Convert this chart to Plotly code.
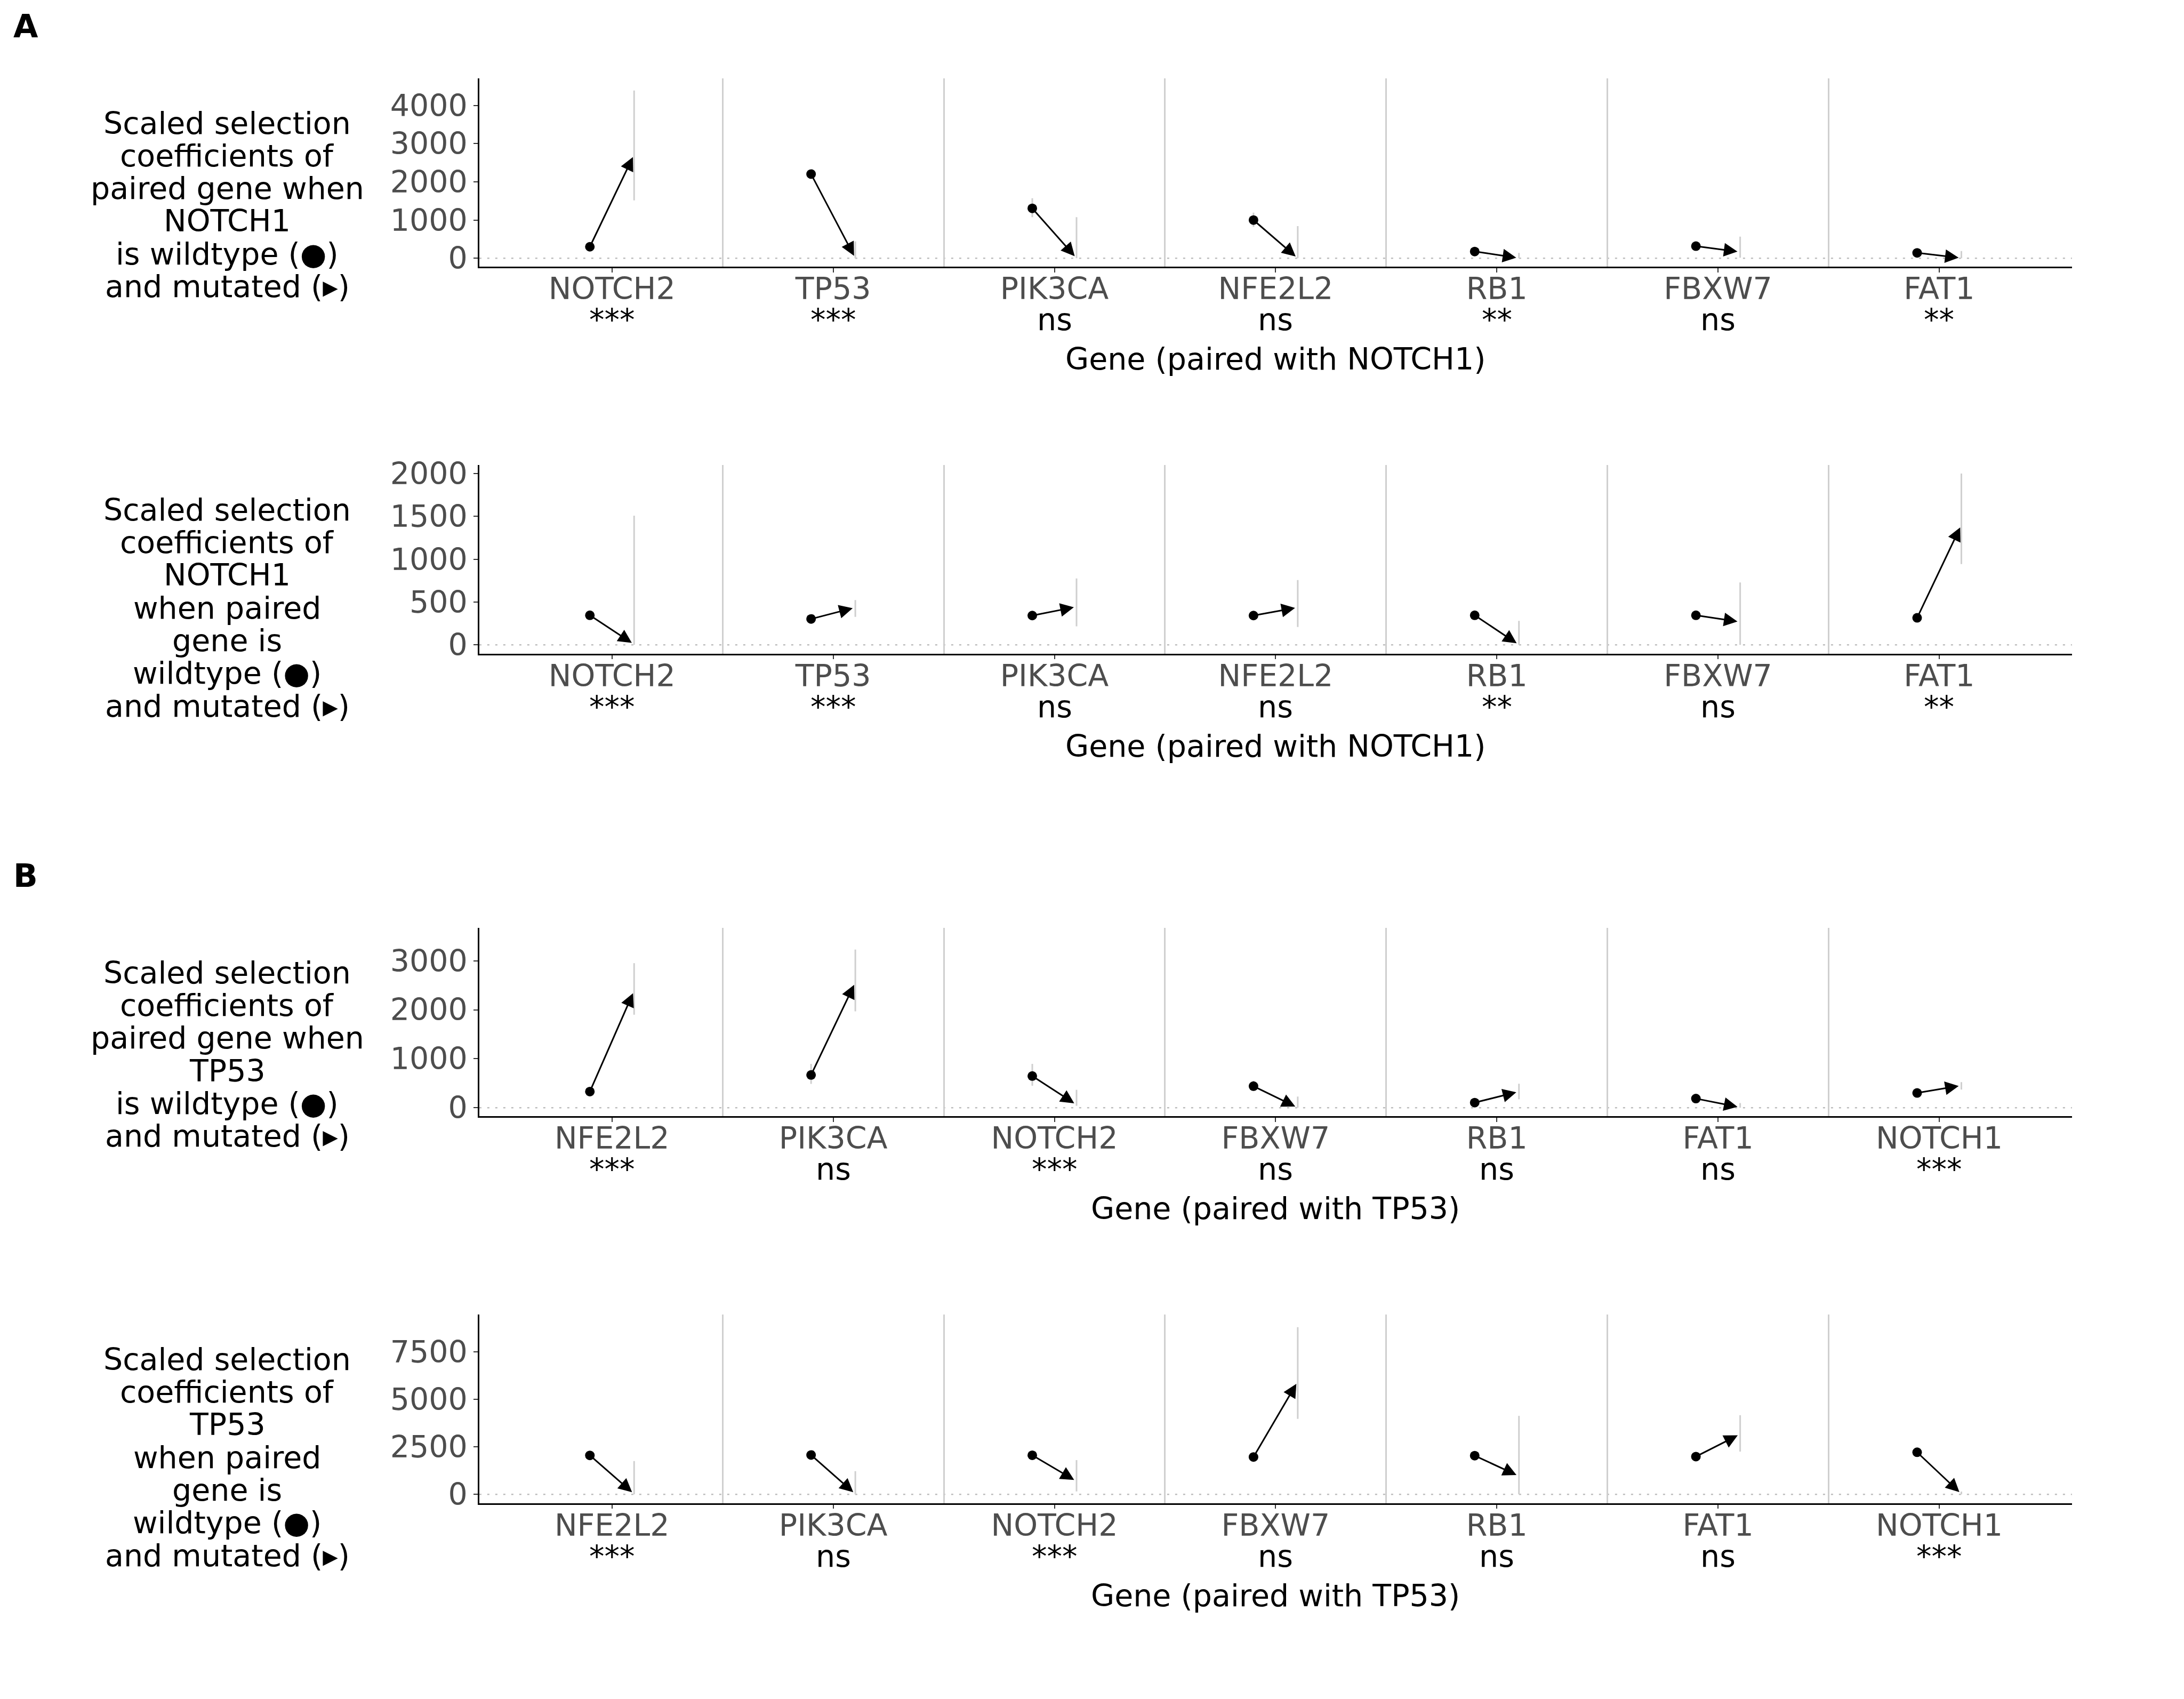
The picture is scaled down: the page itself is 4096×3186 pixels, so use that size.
import plotly.graph_objects as go

# ---------------- data ----------------
genes_A = ["NOTCH2", "TP53", "PIK3CA", "NFE2L2", "RB1", "FBXW7", "FAT1"]
sig_A = ["***", "***", "ns", "ns", "**", "ns", "**"]
genes_B = ["NFE2L2", "PIK3CA", "NOTCH2", "FBXW7", "RB1", "FAT1", "NOTCH1"]
sig_B = ["***", "ns", "***", "ns", "ns", "ns", "***"]

# A, top: selection of paired gene, NOTCH1 wildtype (wt) vs mutated (mut)
a1_wt = [300, 2203, 1306, 999, 176, 317, 141]
a1_wt_lo = [240, 2140, 1076, 822, 136, 277, 101]
a1_wt_hi = [360, 2266, 1571, 1193, 216, 357, 181]
a1_mut = [2714, 0, 0, 0, 5, 165, 5]
a1_mut_lo = [1515, 0, 0, 0, 0, 15, 0]
a1_mut_hi = [4390, 440, 1076, 840, 141, 565, 187]

# A, bottom: selection of NOTCH1 when paired gene wt vs mut
a2_wt = [345, 302, 342, 342, 345, 345, 315]
a2_wt_lo = [315, 272, 312, 312, 315, 315, 285]
a2_wt_hi = [375, 332, 372, 372, 375, 375, 345]
a2_mut = [5, 436, 444, 436, 0, 268, 1400]
a2_mut_lo = [0, 326, 216, 208, 0, 0, 943]
a2_mut_hi = [1507, 523, 775, 756, 279, 728, 2000]

# B, top: selection of paired gene, TP53 wt vs mut
b1_wt = [330, 669, 647, 440, 104, 187, 302]
b1_wt_lo = [290, 487, 449, 344, 70, 150, 265]
b1_wt_hi = [370, 895, 895, 550, 140, 225, 340]
b1_mut = [2390, 2560, 60, 0, 330, 8, 454]
b1_mut_lo = [1899, 1968, 40, 0, 173, 0, 371]
b1_mut_hi = [2951, 3229, 366, 228, 490, 95, 523]

# B, bottom: selection of TP53 when paired gene wt vs mut
b2_wt = [2051, 2072, 2058, 1966, 2037, 1987, 2214]
b2_wt_lo = [1900, 1920, 1910, 1820, 1890, 1840, 2060]
b2_wt_hi = [2200, 2220, 2210, 2110, 2180, 2130, 2360]
b2_mut = [20, 20, 688, 5940, 960, 3172, 20]
b2_mut_lo = [0, 0, 156, 3974, 0, 2250, 0]
b2_mut_hi = [1753, 1220, 1802, 8799, 4130, 4166, 150]

ticks_a1 = [0, 1000, 2000, 3000, 4000]
ticks_a2 = [0, 500, 1000, 1500, 2000]
ticks_b1 = [0, 1000, 2000, 3000]
ticks_b2 = [0, 2500, 5000, 7500]

title_a1 = ["Scaled selection", "coefficients of", "paired gene when", "NOTCH1",
            "is wildtype (\u25CF)", "and mutated (\u25B8)"]
title_a2 = ["Scaled selection", "coefficients of", "NOTCH1", "when paired",
            "gene is", "wildtype (\u25CF)", "and mutated (\u25B8)"]
title_b1 = ["Scaled selection", "coefficients of", "paired gene when", "TP53",
            "is wildtype (\u25CF)", "and mutated (\u25B8)"]
title_b2 = ["Scaled selection", "coefficients of", "TP53", "when paired",
            "gene is", "wildtype (\u25CF)", "and mutated (\u25B8)"]

# ---------------- layout constants (reference pixel frame) ----------------
W, H = 4096, 3186
RW, RH = 5400.0, 4200.0
S = W / RW
SY = H / RH
FONT = "DejaVu Sans"
FS = 57                 # output font size
FS_FULL = FS / S
GREY_TXT = "#4D4D4D"
LIGHT = "#CFCFCF"

# vertical compensation observed in the rendered page
V_OFF, V_K = 17.0, 0.9893


def px(xf):
    return xf / RW


def py(yf):
    out = yf * SY
    p = (out - V_OFF) / V_K
    return 1 - p / H


X_LEFT, X_RIGHT = 1185.0, 5123.0
panels = [
    dict(genes=genes_A, sig=sig_A, wt=a1_wt, wlo=a1_wt_lo, whi=a1_wt_hi,
         mut=a1_mut, mlo=a1_mut_lo, mhi=a1_mut_hi, yr=[-222, 4714], ticks=ticks_a1,
         top=193.3, bot=659.3, ytitle=title_a1, xtitle="Gene (paired with NOTCH1)"),
    dict(genes=genes_A, sig=sig_A, wt=a2_wt, wlo=a2_wt_lo, whi=a2_wt_hi,
         mut=a2_mut, mlo=a2_mut_lo, mhi=a2_mut_hi, yr=[-102.5, 2100], ticks=ticks_a2,
         top=1149.3, bot=1615.7, ytitle=title_a2, xtitle="Gene (paired with NOTCH1)"),
    dict(genes=genes_B, sig=sig_B, wt=b1_wt, wlo=b1_wt_lo, whi=b1_wt_hi,
         mut=b1_mut, mlo=b1_mut_lo, mhi=b1_mut_hi, yr=[-171, 3675], ticks=ticks_b1,
         top=2293.3, bot=2759.0, ytitle=title_b1, xtitle="Gene (paired with TP53)"),
    dict(genes=genes_B, sig=sig_B, wt=b2_wt, wlo=b2_wt_lo, whi=b2_wt_hi,
         mut=b2_mut, mlo=b2_mut_lo, mhi=b2_mut_hi, yr=[-462, 9468], ticks=ticks_b2,
         top=3249.3, bot=3715.7, ytitle=title_b2, xtitle="Gene (paired with TP53)"),
]

OFF = 0.1          # dodge of wildtype / mutated within a category
ASC_MID = 0.346    # (ascent - descent)/2 in em for DejaVu Sans
ARW, ARS = 3, 1.7  # arrow line width and head scale

fig = go.Figure()
annotations = []
shapes = []
layout = dict(width=W, height=H, margin=dict(l=0, r=0, t=0, b=0),
              paper_bgcolor="white", plot_bgcolor="white", showlegend=False,
              font=dict(family=FONT, size=FS, color="black"))

for k, p in enumerate(panels):
    n = k + 1
    xa = "xaxis" if n == 1 else f"xaxis{n}"
    ya = "yaxis" if n == 1 else f"yaxis{n}"
    xr = "x" if n == 1 else f"x{n}"
    yr = "y" if n == 1 else f"y{n}"
    cats = list(range(len(p["genes"])))

    layout[xa] = dict(
        domain=[px(X_LEFT), px(X_RIGHT)], anchor=yr, range=[-0.6, len(cats) - 0.4],
        tickmode="array", tickvals=cats, ticktext=p["genes"],
        ticks="outside", ticklen=7.6, tickwidth=2.3, tickcolor="#333333",
        ticklabelstandoff=-18,
        showline=True, linecolor="black", linewidth=3,
        tickfont=dict(family=FONT, size=FS, color=GREY_TXT),
        showgrid=False, zeroline=False, fixedrange=True,
        minor=dict(tickmode="array", tickvals=[c + 0.5 for c in cats[:-1]],
                   showgrid=True, gridcolor=LIGHT, gridwidth=2.6, ticks=""),
    )
    layout[ya] = dict(
        domain=[py(p["bot"]), py(p["top"])], anchor=xr, range=p["yr"],
        tickmode="array", tickvals=p["ticks"], ticktext=[str(t) for t in p["ticks"]],
        ticks="outside", ticklen=7.6, tickwidth=2.3, tickcolor="#333333",
        showline=True, linecolor="black", linewidth=3,
        tickfont=dict(family=FONT, size=FS, color=GREY_TXT),
        showgrid=False, zeroline=False, fixedrange=True,
    )

    # dotted zero reference line
    shapes.append(dict(type="line", xref=f"{xr} domain", x0=0, x1=1, yref=yr, y0=0, y1=0,
                       line=dict(color="#BDBDBD", width=2.5, dash="4px,11px"), layer="below"))

    # confidence ranges (grey vertical lines)
    cx, cy = [], []
    for c in cats:
        cx += [c - OFF, c - OFF, None, c + OFF, c + OFF, None]
        cy += [p["wlo"][c], p["whi"][c], None, p["mlo"][c], p["mhi"][c], None]
    fig.add_trace(go.Scatter(x=cx, y=cy, mode="lines", xaxis=xr, yaxis=yr,
                             line=dict(color=LIGHT, width=3), hoverinfo="skip"))

    # wildtype points
    fig.add_trace(go.Scatter(x=[c - OFF for c in cats], y=p["wt"], mode="markers",
                             xaxis=xr, yaxis=yr, cliponaxis=False,
                             marker=dict(symbol="circle", size=18, color="black")))

    # arrows wildtype -> mutated
    for c in cats:
        annotations.append(dict(
            x=c + OFF, y=p["mut"][c], ax=c - OFF, ay=p["wt"][c],
            xref=xr, yref=yr, axref=xr, ayref=yr, text="", showarrow=True,
            arrowhead=2, arrowsize=ARS, arrowwidth=ARW, arrowcolor="black",
            standoff=ARW * ARS))

    # significance labels under gene names
    sig_center = p["bot"] + 156.5 - ASC_MID * FS_FULL
    for c in cats:
        annotations.append(dict(x=c, y=py(sig_center), xref=xr, yref="paper",
                                text=p["sig"][c], showarrow=False, xanchor="center",
                                yanchor="middle", font=dict(family=FONT, size=FS, color="black")))

    # x axis title
    xt_center = p["bot"] + 254 - ASC_MID * FS_FULL
    annotations.append(dict(x=px((X_LEFT + X_RIGHT) / 2), y=py(xt_center), xref="paper",
                            yref="paper", text=p["xtitle"], showarrow=False,
                            xanchor="center", yanchor="middle",
                            font=dict(family=FONT, size=FS, color="black")))

    # y axis title, one annotation per line
    for j, line in enumerate(p["ytitle"]):
        base = p["top"] + 136.7 + 80.8 * j
        annotations.append(dict(x=px(562), y=py(base - ASC_MID * FS_FULL), xref="paper",
                                yref="paper", text=line, showarrow=False,
                                xanchor="center", yanchor="middle",
                                font=dict(family=FONT, size=FS, color="black")))

# panel tags
for tag, base in [("A", 92), ("B", 2192)]:
    annotations.append(dict(x=px(30), y=py(base - ASC_MID * 79), xref="paper", yref="paper",
                            text=f"<b>{tag}</b>", showarrow=False, xanchor="left",
                            yanchor="middle", font=dict(family=FONT, size=60, color="black")))

layout["annotations"] = annotations
layout["shapes"] = shapes
fig.update_layout(**layout)
fig.write_html("out.html")
